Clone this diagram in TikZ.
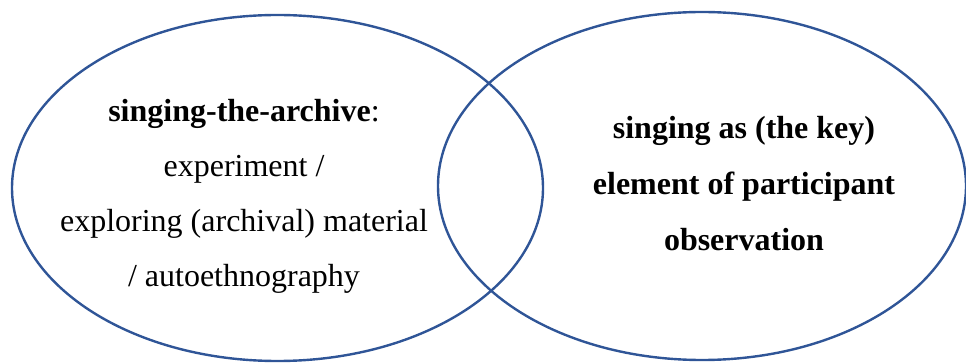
\documentclass[tikz,border=0pt]{standalone}
\usepackage{fontspec}
\setmainfont{Liberation Serif}
\definecolor{Edge}{HTML}{2F5597}
\tikzset{
  setline/.style={draw=Edge,line width=2.4pt},
  settext/.style={align=center,font=\fontsize{32}{55}\selectfont,text=black},
  setbold/.style={settext,font=\fontsize{32}{56}\selectfont\bfseries}
}
\begin{document}
\begin{tikzpicture}[x=1pt,y=-1pt]
  \useasboundingbox (0,0) rectangle (966,363);
  \draw[setline] (277.5,188) ellipse [x radius=265.5,y radius=173];
  \draw[setline] (702,186) ellipse [x radius=264,y radius=174];
  \node[settext] (archive) at (244,196.5)
    {\textbf{singing-the-archive}:\\ experiment /\\ exploring (archival) material\\ / autoethnography};
  \node[setbold] (observe) at (744,184)
    {singing as (the key)\\ element of participant\\ observation};
\end{tikzpicture}
\end{document}
